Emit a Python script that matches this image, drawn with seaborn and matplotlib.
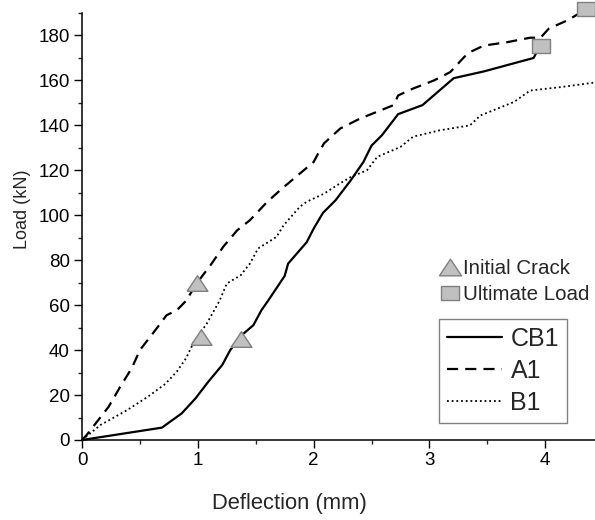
import matplotlib
matplotlib.use("Agg")
import matplotlib.pyplot as plt
from matplotlib.lines import Line2D
from matplotlib.ticker import MultipleLocator
import seaborn as sns
import pandas as pd

# ---- data ----
cb1_x = [0, 0.69, 0.86, 0.98, 1.09, 1.21, 1.28, 1.38, 1.48, 1.55, 1.61, 1.75, 1.78, 1.94, 2.0,
         2.08, 2.19, 2.32, 2.43, 2.50, 2.59, 2.73, 2.94, 3.21, 3.47, 3.90, 3.96]
cb1_y = [0, 5.5, 11.8, 18.5, 25.9, 33.3, 40, 46.7, 51.1, 57.8, 62.2, 73, 78.5, 88, 94,
         101, 106.7, 115.5, 123.7, 131, 135.6, 145, 149, 161, 164, 170, 176]

a1_x = [0, 0.04, 0.23, 0.33, 0.43, 0.50, 0.65, 0.73, 0.82, 0.90, 0.99, 1.11, 1.22, 1.34, 1.45,
        1.60, 1.73, 1.88, 2.0, 2.04, 2.09, 2.23, 2.40, 2.58, 2.69, 2.73, 2.86, 3.04, 3.18,
        3.30, 3.35, 3.47, 3.67, 3.87, 3.96, 4.03, 4.19, 4.35]
a1_y = [0, 2.2, 14.8, 23.7, 32, 40, 50, 55.5, 57.8, 62, 69.7, 77.8, 86, 93.3, 97.8,
        106, 112, 118.5, 123.7, 127.5, 132, 138.6, 143, 146.7, 149, 153.3, 156.4, 160, 163.7,
        170.4, 172.6, 175.5, 177, 179, 179, 183, 186.7, 191.5]

b1_x = [0, 0.16, 0.39, 0.57, 0.72, 0.82, 0.90, 0.96, 1.08, 1.19, 1.25, 1.37, 1.45, 1.52, 1.68,
        1.74, 1.88, 1.94, 2.09, 2.20, 2.32, 2.46, 2.55, 2.75, 2.86, 3.09, 3.35, 3.44, 3.73,
        3.87, 4.13, 4.42]
b1_y = [0, 6.7, 13.3, 19.3, 25, 30.5, 36.5, 43, 52, 62.2, 69.6, 73.3, 78.5, 85.2, 90.4,
        95.5, 103.7, 106, 109.6, 113.3, 117, 120, 126, 130.4, 135, 137.8, 140, 144.4, 150.4,
        155.5, 157, 159]

crack_x = [0.99, 1.03, 1.37]
crack_y = [70, 46, 45]
ult_x = [3.96, 4.35]
ult_y = [175.5, 192]

series_names = ["CB1", "A1", "B1"]
marker_labels = ["Initial Crack", "Ultimate Load"]
x_label = "Deflection (mm)"
y_label = "Load (kN)"

# ---- style ----
sns.set_style("ticks")
plt.rcParams["font.family"] = ["Liberation Sans", "DejaVu Sans"]

fig = plt.figure(figsize=(5.95, 5.2), dpi=100)
ax = fig.add_axes([82 / 595, 80 / 520, 513 / 595, 427 / 520])

styles = {
    "CB1": dict(linestyle="-", linewidth=1.6),
    "A1": dict(linestyle=(0, (5, 3.2)), linewidth=1.6),
    "B1": dict(linestyle=(0, (1, 1.6)), linewidth=1.3),
}
data = {"CB1": (cb1_x, cb1_y), "A1": (a1_x, a1_y), "B1": (b1_x, b1_y)}
line_handles = []
for name in series_names:
    xs, ys = data[name]
    df = pd.DataFrame({"x": xs, "y": ys})
    sns.lineplot(data=df, x="x", y="y", ax=ax, color="black", sort=False,
                 estimator=None, **styles[name])
    ln = ax.get_lines()[-1]
    ln.set_clip_on(False)
    line_handles.append(Line2D([], [], color="black", **styles[name]))

tri = [(-1, -0.75), (1, -0.75), (0, 0.75), (-1, -0.75)]
sq = [(-1, -0.83), (1, -0.83), (1, 0.83), (-1, 0.83), (-1, -0.83)]
mfc = "#c0c0c0"
mec = "#808080"
ax.plot(crack_x, crack_y, linestyle="none", marker=tri, markersize=15,
        markerfacecolor=mfc, markeredgecolor=mec, markeredgewidth=1.0, zorder=5, clip_on=False)
ax.plot(ult_x, ult_y, linestyle="none", marker=sq, markersize=13,
        markerfacecolor=mfc, markeredgecolor=mec, markeredgewidth=1.0, zorder=5, clip_on=False)

ax.set_xlim(0, 4.43)
ax.set_ylim(0, 190)
ax.xaxis.set_major_locator(MultipleLocator(1))
ax.xaxis.set_minor_locator(MultipleLocator(0.5))
ax.yaxis.set_major_locator(MultipleLocator(20))
ax.yaxis.set_minor_locator(MultipleLocator(10))
ax.tick_params(which="major", direction="out", length=5.8, width=1.0, labelsize=13.5,
               colors="black", pad=3)
ax.tick_params(which="minor", direction="out", length=3, width=1.0)
for s in ["top", "right"]:
    ax.spines[s].set_visible(False)
for s in ["left", "bottom"]:
    ax.spines[s].set_linewidth(1.1)
    ax.spines[s].set_color("black")

ax.set_xlabel(x_label, fontsize=15.8)
ax.set_ylabel(y_label, fontsize=13)
ax.xaxis.set_label_coords(0.405, -0.125)
ax.yaxis.set_label_coords(-0.10, 0.54)

# legend with markers
mk_handles = [
    Line2D([], [], linestyle="none", marker=tri, markersize=16, markerfacecolor=mfc,
           markeredgecolor=mec, markeredgewidth=1.0),
    Line2D([], [], linestyle="none", marker=sq, markersize=13, markerfacecolor=mfc,
           markeredgecolor=mec, markeredgewidth=1.0),
]
leg1 = fig.legend(mk_handles, marker_labels, loc="upper left",
                  bbox_to_anchor=(439.5 / 595, 1 - 259 / 520), frameon=False,
                  fontsize=14.8, handlelength=1.0, handletextpad=0.15, borderpad=0,
                  borderaxespad=0, labelspacing=0.35)
leg2 = fig.legend(line_handles, series_names, loc="upper left",
                  bbox_to_anchor=(439 / 595, 1 - 319 / 520), frameon=True, fancybox=False,
                  fontsize=18, handlelength=2.2, handletextpad=0.36, borderpad=0.3,
                  borderaxespad=0, labelspacing=0.33)
fr = leg2.get_frame()
fr.set_edgecolor("#808080")
fr.set_linewidth(1.0)
fr.set_alpha(1)

fig.savefig("out.png", dpi=100)
